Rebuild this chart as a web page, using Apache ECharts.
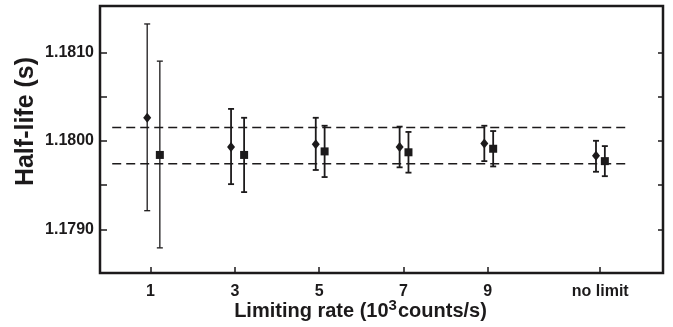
<!DOCTYPE html>
<html>
<head>
<meta charset="utf-8">
<script src="https://cdn.jsdelivr.net/npm/echarts@6/dist/echarts.min.js"></script>
<style>
  html, body { margin: 0; padding: 0; background: #fff; }
  #chart { width: 673px; height: 327px; }
</style>
</head>
<body>
<div id="chart"></div>
<script>
// tick positions on the x axis ("no limit" sits a bit past 9)
var xTicks = [1, 3, 5, 7, 9, 11.67];
var xTickLabels = ['1', '3', '5', '7', '9', 'no limit'];
var yMajor = [1.179, 1.180, 1.181];
var yTicks = [1.179, 1.1795, 1.180, 1.1805, 1.181];

// diamonds (left of each tick)
var diamondX = [0.92, 2.91, 4.92, 6.91, 8.92, 11.57];
var diamondY = [1.18026, 1.17993, 1.17996, 1.17993, 1.17997, 1.17983];
var diamondLow = [1.17921, 1.17951, 1.17967, 1.17970, 1.17977, 1.17965];
var diamondHigh = [1.18132, 1.18036, 1.18026, 1.18016, 1.18017, 1.18000];

// squares (right of each tick)
var squareX = [1.22, 3.22, 5.13, 7.12, 9.13, 11.78];
var squareY = [1.17984, 1.17984, 1.17988, 1.17987, 1.17991, 1.17977];
var squareLow = [1.17879, 1.17942, 1.17959, 1.17964, 1.17971, 1.17960];
var squareHigh = [1.18090, 1.18026, 1.18017, 1.18010, 1.18011, 1.17994];

// dashed band
var bandLevels = [1.18015, 1.17974];
var bandStart = 0.09, bandEnd = 12.27;

var ink = '#1c1a1b';
var font = 'Liberation Sans, Arial, sans-serif';

function points(xs, ys) {
    return xs.map(function (x, i) { return [x, ys[i]]; });
}
function bars(xs, lo, hi) {
    return xs.map(function (x, i) { return [x, lo[i], hi[i]]; });
}

function renderErrorBar(params, api) {
    var top = api.coord([api.value(0), api.value(2)]);
    var bot = api.coord([api.value(0), api.value(1)]);
    var half = 3;
    var st = { stroke: ink, lineWidth: params.dataIndex === 0 ? 1.3 : 1.8 };
    return {
        type: 'group',
        children: [
            { type: 'line', shape: { x1: top[0], y1: top[1], x2: bot[0], y2: bot[1] }, style: st },
            { type: 'line', shape: { x1: top[0] - half, y1: top[1], x2: top[0] + half, y2: top[1] }, style: st },
            { type: 'line', shape: { x1: bot[0] - half, y1: bot[1], x2: bot[0] + half, y2: bot[1] }, style: st }
        ]
    };
}

var chart = echarts.init(document.getElementById('chart'));

var bandSeries = bandLevels.map(function (v) {
    return {
        type: 'line',
        data: [[bandStart, v], [bandEnd, v]],
        symbol: 'none',
        silent: true,
        lineStyle: { color: ink, width: 1.6, type: [9, 5] },
        z: 1
    };
});

var option = {
    animation: false,
    grid: {
        left: 100, right: 10, top: 6, bottom: 54,
        outerBoundsMode: 'none',
        show: true, borderColor: ink, borderWidth: 2.5
    },
    xAxis: {
        type: 'value',
        min: -0.2, max: 13.16,
        splitLine: { show: false },
        axisLine: { show: false, onZero: false },
        axisTick: {
            inside: true, length: 6, customValues: xTicks,
            lineStyle: { color: ink, width: 1.5 }
        },
        axisLabel: {
            customValues: xTicks,
            formatter: function (v) {
                var i = xTicks.indexOf(v);
                return i >= 0 ? xTickLabels[i] : '';
            },
            color: ink, fontFamily: font, fontWeight: 'bold', fontSize: 16, margin: 11
        },
        name: '{a|Limiting rate (10}{s|3}{a|counts/s)}',
        nameLocation: 'middle',
        nameGap: 25,
        nameMoveOverlap: false,
        nameTextStyle: {
            padding: [0, 42, 0, 0],
            rich: {
                a: { fontFamily: font, fontWeight: 'bold', fontSize: 20, color: ink, verticalAlign: 'bottom', lineHeight: 23 },
                s: { fontFamily: font, fontWeight: 'bold', fontSize: 15, color: ink, verticalAlign: 'top', lineHeight: 23, padding: [0, 1, 6, 0] }
            }
        }
    },
    yAxis: [{
        type: 'value',
        min: 1.178506, max: 1.181523,
        splitLine: { show: false },
        axisLine: { show: false, onZero: false },
        axisTick: {
            inside: true, length: 7, customValues: yTicks,
            lineStyle: { color: ink, width: 1.5 }
        },
        axisLabel: {
            customValues: yMajor,
            formatter: function (v) { return v.toFixed(4); },
            color: ink, fontFamily: font, fontWeight: 'bold', fontSize: 16, margin: 6
        },
        name: 'Half-life (s)',
        nameLocation: 'middle',
        nameGap: 61,
        nameMoveOverlap: false,
        nameTextStyle: {
            fontFamily: font, fontWeight: 'bold', fontSize: 25, color: ink,
            padding: [0, 0, 0, 36]
        }
    }, {
        type: 'value',
        position: 'right',
        min: 1.178506, max: 1.181523,
        splitLine: { show: false },
        axisLine: { show: false, onZero: false },
        axisTick: {
            inside: true, length: 5, customValues: yTicks,
            lineStyle: { color: ink, width: 1.5 }
        },
        axisLabel: { show: false }
    }],
    series: bandSeries.concat([
        {
            type: 'custom',
            renderItem: renderErrorBar,
            data: bars(diamondX, diamondLow, diamondHigh),
            encode: { x: 0, y: [1, 2] },
            z: 2
        },
        {
            type: 'custom',
            renderItem: renderErrorBar,
            data: bars(squareX, squareLow, squareHigh),
            encode: { x: 0, y: [1, 2] },
            z: 2
        },
        {
            type: 'scatter',
            data: points(diamondX, diamondY),
            symbol: 'diamond',
            symbolSize: [8, 10],
            itemStyle: { color: ink, opacity: 1 },
            z: 3
        },
        {
            type: 'scatter',
            data: points(squareX, squareY),
            symbol: 'rect',
            symbolSize: 8,
            itemStyle: { color: ink, opacity: 1 },
            z: 3
        }
    ])
};

chart.setOption(option);
</script>
</body>
</html>
